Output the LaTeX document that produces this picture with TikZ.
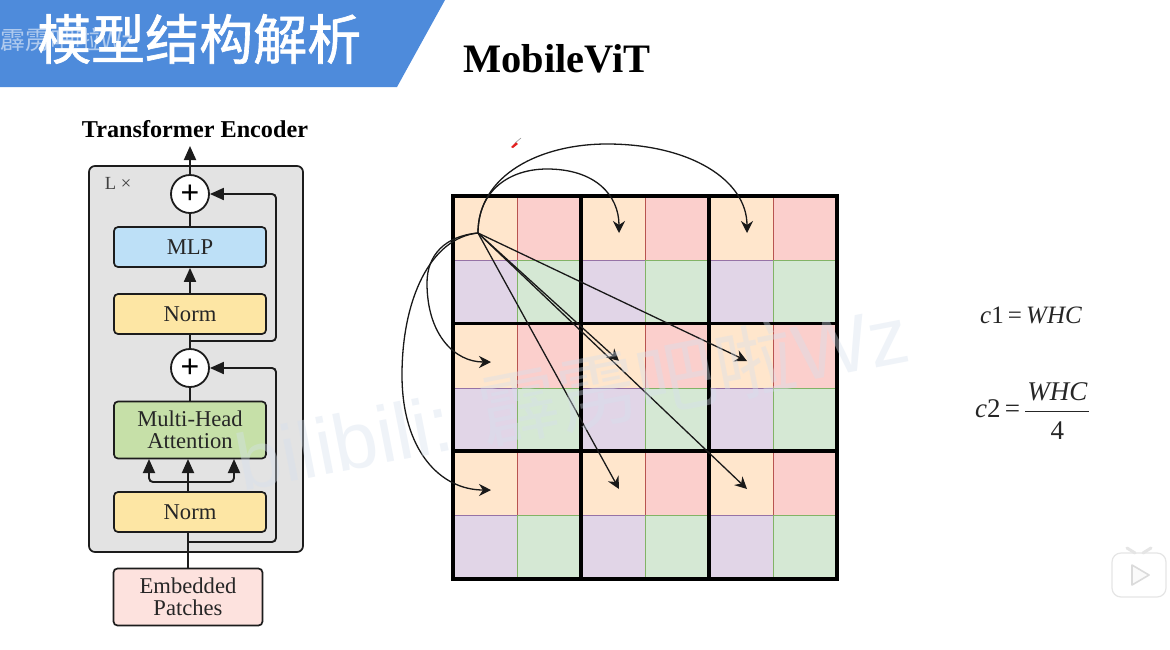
\documentclass[tikz,border=0pt]{standalone}
\usepackage{fontspec}
\setmainfont{Liberation Serif}
\newfontfamily\cjk{Noto Sans CJK SC}
\newfontfamily\cjkt[FakeBold=1.2]{Noto Sans CJK SC}
\newfontfamily\sanswm{Liberation Sans}
\usetikzlibrary{arrows.meta}
\definecolor{banner}{HTML}{4E8BDB}
\definecolor{panel}{HTML}{E3E3E3}
\definecolor{linek}{HTML}{1C1C1C}
\definecolor{HTMLo}{HTML}{FFE6CC}\definecolor{HTMLoe}{HTML}{E8C79A}
\definecolor{HTMLr}{HTML}{FBCFCC}\definecolor{HTMLre}{HTML}{B85450}
\definecolor{HTMLp}{HTML}{E1D5E7}\definecolor{HTMLpe}{HTML}{9673A6}
\definecolor{HTMLg}{HTML}{D5E8D4}\definecolor{HTMLge}{HTML}{82B366}
\definecolor{HTMLmlp}{HTML}{BDE0F7}
\definecolor{HTMLnorm}{HTML}{FDE6A4}
\definecolor{HTMLmha}{HTML}{C6E0A8}
\definecolor{HTMLemb}{HTML}{FDE2DE}
\definecolor{HTMLwm}{HTML}{D5E0EE}
\tikzset{
  x=1pt,y=-1pt,
  block/.style={draw=linek,line width=1.7pt,rounded corners=4pt,inner sep=0pt,align=center,font=\fontsize{22.6}{24.5}\selectfont,text=black!85},
  sumc/.style={circle,draw=linek,line width=1.8pt,fill=white,minimum size=38pt,inner sep=0pt,font=\sanswm\fontsize{32}{32}\selectfont},
  flow/.style={draw=linek,line width=1.9pt},
  flowa/.style={flow,-{Triangle[length=14pt,width=12pt]}},
  cellb/.style={minimum size=64pt,inner sep=0pt,line width=1.1pt,anchor=north west},
  co/.style={cellb,fill=HTMLo,draw=HTMLoe},
  cr/.style={cellb,fill=HTMLr,draw=HTMLre},
  cp/.style={cellb,fill=HTMLp,draw=HTMLpe},
  cg/.style={cellb,fill=HTMLg,draw=HTMLge},
  thin arrow/.style={draw=black!90,line width=1.3pt,-{Stealth[length=12pt,width=12pt]}},
  eqn/.style={font=\fontsize{25}{30}\selectfont,text=black!85,inner sep=0pt},
}
\begin{document}
\begin{tikzpicture}
\useasboundingbox (0,0) rectangle (1170,649);
\fill[white] (0,0) rectangle (1170,649);
% banner
\fill[banner] (0,0) -- (445,0) -- (397,87) -- (0,87) -- cycle;
\node[anchor=west,inner sep=0pt,text=white,opacity=.55,font=\cjk\fontsize{25}{25}\selectfont] (wmsmall) at (0,40) {霹雳吧啦Wz};
\node[anchor=west,inner sep=0pt,text=white,font=\cjkt\fontsize{54}{54}\selectfont] (title) at (37,39) {模型结构解析};
\node[font=\bfseries\fontsize{40.4}{42}\selectfont,inner sep=0pt] (mv) at (557,59) {MobileViT};
% left panel
\node[font=\bfseries\fontsize{24.2}{26}\selectfont,inner sep=0pt] (te) at (195,129) {Transformer Encoder};
\draw[draw=linek,line width=1.7pt,fill=panel,rounded corners=6pt] (89,166) rectangle (303,552);
\node[font=\fontsize{18.5}{20}\selectfont,text=black!75,inner sep=0pt] (lx) at (118,183) {L ×};
\node[sumc] (s1) at (190,194) {+};
\node[sumc] (s2) at (190,368) {+};
\node[block,fill=HTMLmlp,minimum width=152pt,minimum height=40pt] (mlp) at (190,247) {MLP};
\node[block,fill=HTMLnorm,minimum width=152pt,minimum height=40pt] (n1) at (190,314) {Norm};
\node[block,fill=HTMLmha,minimum width=152pt,minimum height=57pt] (mha) at (190,430) {Multi-Head\\[-2pt]Attention};
\node[block,fill=HTMLnorm,minimum width=152pt,minimum height=40pt] (n2) at (190,512) {Norm};
\node[block,fill=HTMLemb,minimum width=149pt,minimum height=57pt] (emb) at (188,597) {Embedded\\[-2pt]Patches};
\coordinate (top) at (190,146);
\coordinate (tap1) at (190,341);
\coordinate (cor1a) at (276,341);
\coordinate (cor1b) at (276,194);
\coordinate (tap2) at (188,542);
\coordinate (cor2a) at (276,542);
\coordinate (cor2b) at (276,368);
\coordinate (bm) at (188,482);
\coordinate (bl) at (149,482);
\coordinate (br) at (234,482);
\coordinate (tl) at (149,459);
\coordinate (tm) at (188,459);
\coordinate (tr) at (234,459);
\draw[flowa] (s1.north) -- (top);
\draw[flow] (mlp.north) -- (s1.south);
\draw[flowa] (n1.north) -- (mlp.south);
\draw[flow] (n1.south) -- (s2.north);
\draw[flow] (s2.south) -- (mha.north);
\draw[flowa,rounded corners=4pt] (tap1) -- (cor1a) -- (cor1b) -- (s1.east);
\draw[flowa,rounded corners=4pt] (tap2) -- (cor2a) -- (cor2b) -- (s2.east);
\draw[flow] (emb.north) -- (emb.north |- n2.south);
\draw[flowa] (n2.north -| bm) -- (tm);
\draw[flowa,rounded corners=4pt] (bm) -- (bl) -- (tl);
\draw[flowa,rounded corners=4pt] (bm) -- (br) -- (tr);
% grid
\foreach \r/\y in {0/196,2/323.5,4/451}{
  \foreach \c/\x in {0/453,2/581,4/709}{
    \node[co] (o\r\c) at (\x,\y) {};
    \node[cr] (r\r\c) at (\x+64,\y) {};
    \node[cp] (p\r\c) at (\x,\y+64) {};
    \node[cg] (g\r\c) at (\x+64,\y+64) {};
  }
}
\draw[black,line width=3.4pt] (453,196) rectangle (837,579);
\foreach \x in {581,709}{\draw[black,line width=3.2pt] (\x,196) -- (\x,579);}
\foreach \y in {323.5,451}{\draw[black,line width=3.2pt] (453,\y) -- (837,\y);}
% arrows
\coordinate (src) at (478,233);
\coordinate (a1) at (619,233);
\coordinate (a2) at (747,233);
\coordinate (a3) at (491,362);
\coordinate (a4) at (619,361);
\coordinate (a5) at (747,361);
\coordinate (a6) at (491,490);
\coordinate (a7) at (619,489);
\coordinate (a8) at (747,489);
\draw[thin arrow] (src) .. controls (478,190) and (510,169) .. (547,169) .. controls (595,169) and (619,195) .. (a1);
\draw[thin arrow] (src) .. controls (478,175) and (540,144) .. (607,144) .. controls (690,144) and (747,180) .. (a2);
\draw[thin arrow] (src) .. controls (445,236) and (427,255) .. (427,283) .. controls (427,335) and (455,362) .. (a3);
\draw[thin arrow] (src) .. controls (430,238) and (402,300) .. (402,375) .. controls (402,450) and (440,490) .. (a6);
\draw[thin arrow] (src) -- (a4);
\draw[thin arrow] (src) -- (a5);
\draw[thin arrow] (src) -- (a7);
\draw[thin arrow] (src) -- (a8);
% pen mark
\fill[HTMLre!40!red] (511,147) -- (516,142) -- (518,144) -- (513,148) -- cycle;
\draw[black!40,line width=.6pt] (515,143) -- (521,138);
% watermark
\node[rotate=11,text=HTMLwm,opacity=.38,inner sep=0pt,font=\sanswm\fontsize{80}{84}\selectfont] (wm) at (572,396) {bilibili: {\cjk 霹雳吧啦}Wz};
% equations
\node[eqn,anchor=west] (c1) at (980,315) {\textit{c}1$\,$=$\,$\textit{WHC}};
\node[eqn,anchor=west,font=\fontsize{27}{30}\selectfont] (c2) at (975,411) {\textit{c}2$\,$=$\,\displaystyle\frac{\hbox to 64pt{\hss\textit{WHC}\hss}}{\hbox{\raisebox{-5pt}{4}}}$};
% play icon
\draw[black!10,fill=white,line width=1.2pt,rounded corners=9pt] (1112,553) rectangle (1166,597);
\draw[black!10,line width=3pt,line cap=round] (1127,548) -- (1135,553) (1151,548) -- (1143,553);
\draw[black!14,fill=black!2,line width=1.6pt,line join=round] (1132,565) -- (1149,575) -- (1132,585) -- cycle;
\end{tikzpicture}
\end{document}
